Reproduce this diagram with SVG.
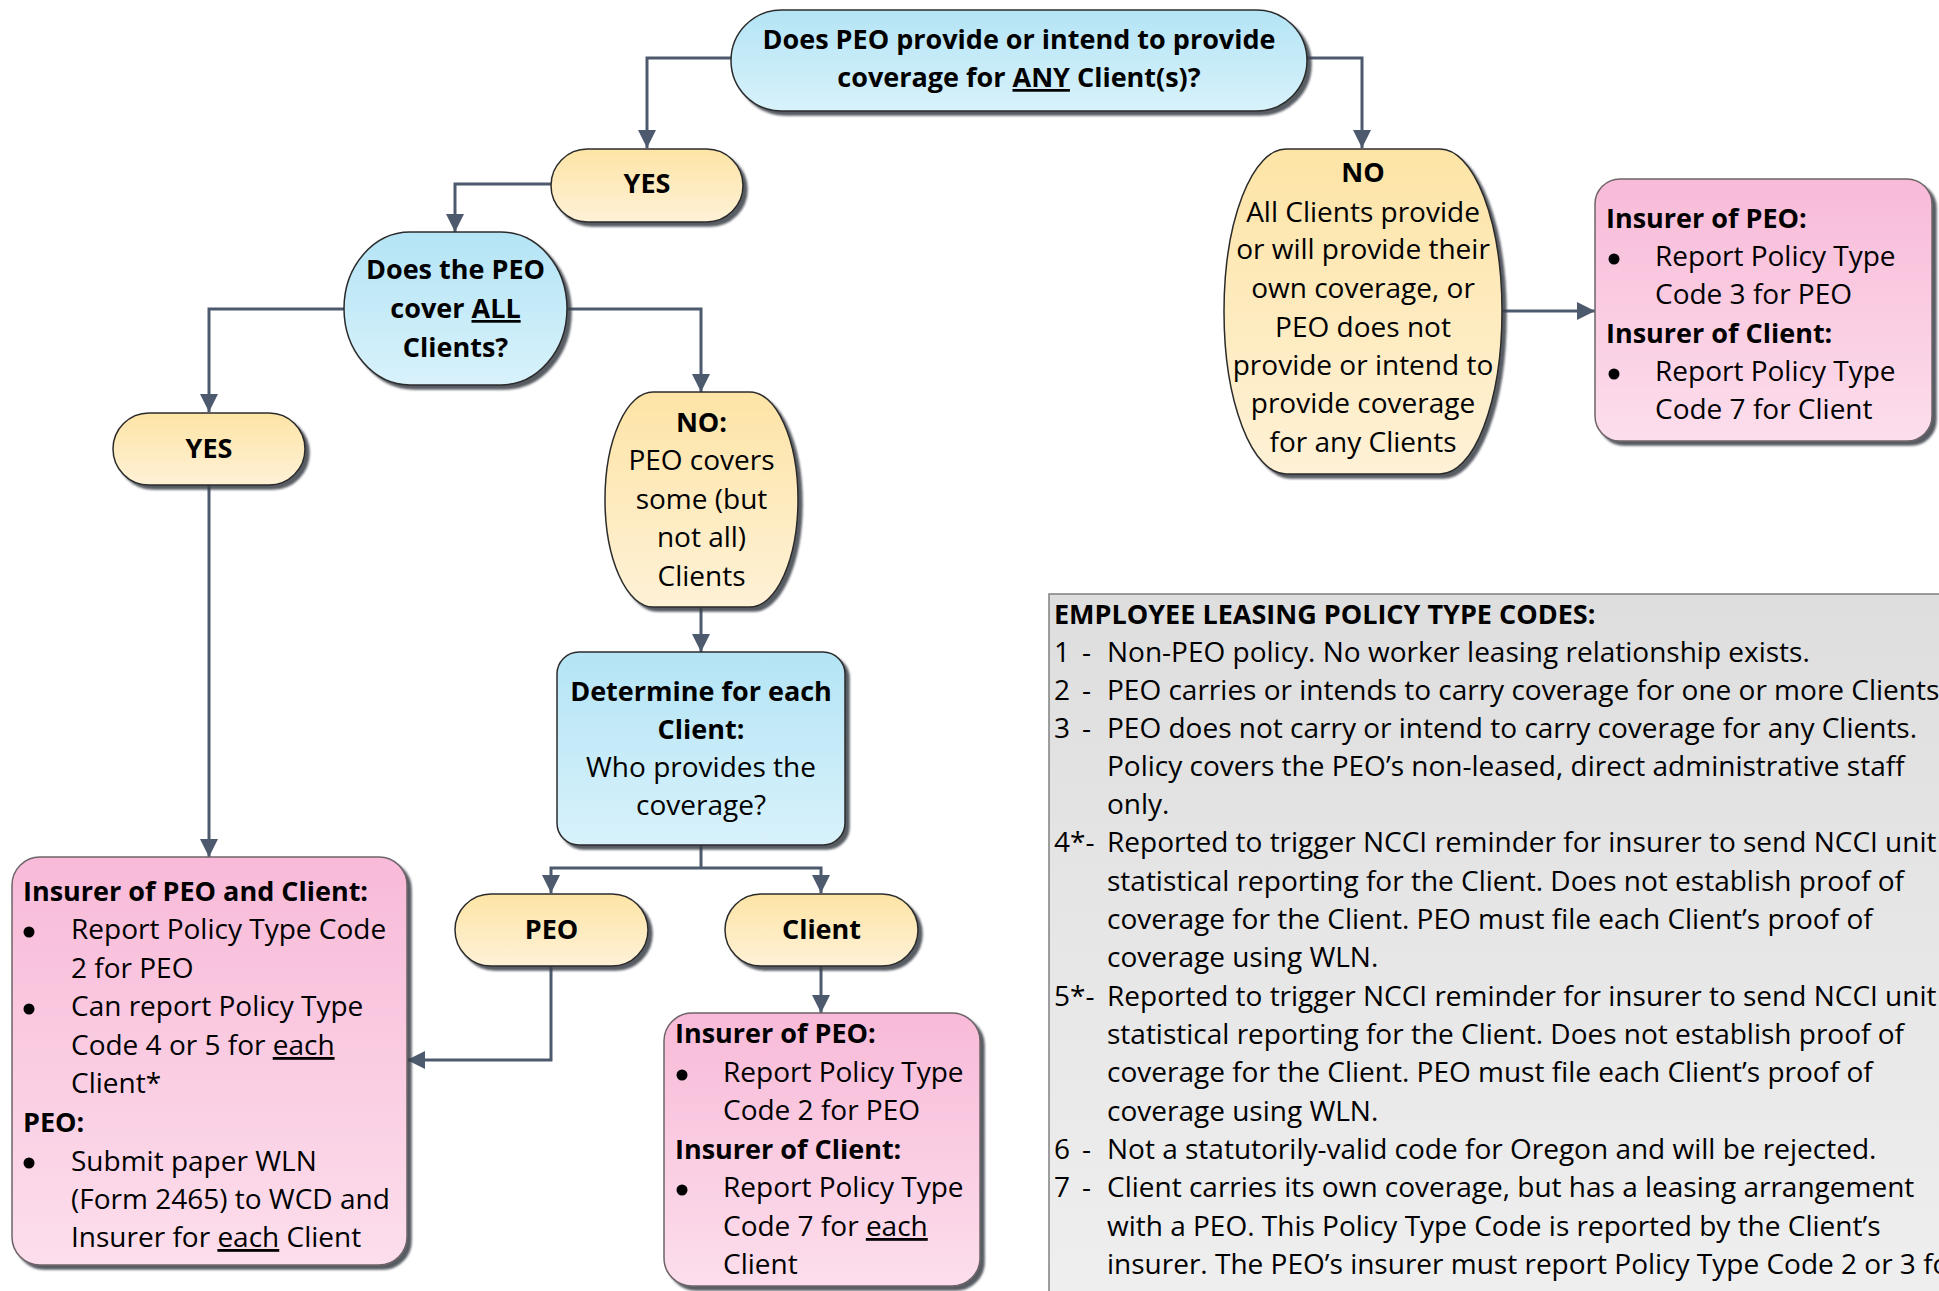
<svg xmlns="http://www.w3.org/2000/svg" width="1939" height="1291" viewBox="0 0 1939 1291">
<defs>
<linearGradient id="gY" x1="0" y1="0" x2="0" y2="1"><stop offset="0" stop-color="#fde4a6"/><stop offset="1" stop-color="#fef1d6"/></linearGradient>
<linearGradient id="gB" x1="0" y1="0" x2="0" y2="1"><stop offset="0" stop-color="#b4e4f5"/><stop offset="1" stop-color="#d8f2fb"/></linearGradient>
<linearGradient id="gP" x1="0" y1="0" x2="0" y2="1"><stop offset="0" stop-color="#f8bad8"/><stop offset="1" stop-color="#fcdeec"/></linearGradient>
<linearGradient id="gG" x1="0" y1="0" x2="0" y2="1"><stop offset="0" stop-color="#dedede"/><stop offset="1" stop-color="#efefef"/></linearGradient>
<filter id="sh" x="-10%" y="-10%" width="125%" height="125%">
<feGaussianBlur in="SourceAlpha" stdDeviation="1.2"/>
<feOffset dx="4" dy="4" result="o"/>
<feFlood flood-color="#3a3f48" flood-opacity="0.85"/>
<feComposite in2="o" operator="in"/>
<feMerge><feMergeNode/><feMergeNode in="SourceGraphic"/></feMerge>
</filter>
<marker id="ar" markerUnits="userSpaceOnUse" markerWidth="18" markerHeight="18" viewBox="0 0 18 18" refX="18" refY="9" orient="auto">
<path d="M0,0 L18,9 L0,18 Z" fill="#4d5a6e"/>
</marker>
</defs>
<style>
text{font-family:"Open Sans","Noto Sans",sans-serif;font-size:28px;fill:#000}
.b{font-weight:bold;font-size:27px}
.c{text-anchor:middle}
.n{stroke:#2b2b2b;stroke-width:1.5;filter:url(#sh)}
.y{fill:url(#gY)}
.bl{fill:url(#gB)}
.p{fill:url(#gP);stroke:#6e6468}
.u{text-decoration:underline}
.con path{fill:none;stroke:#4d5a6e;stroke-width:3}
</style>

<g id="legend">
<rect x="1049" y="594" width="900" height="720" fill="url(#gG)" stroke="#808080" stroke-width="1.5"/>
<text class="b" x="1054" y="624">EMPLOYEE LEASING POLICY TYPE CODES:</text>
<text x="1054" y="662">1</text><text x="1082" y="662">-</text><text x="1107" y="662">Non-PEO policy. No worker leasing relationship exists.</text>
<text x="1054" y="700">2</text><text x="1082" y="700">-</text><text x="1107" y="700">PEO carries or intends to carry coverage for one or more Clients.</text>
<text x="1054" y="738">3</text><text x="1082" y="738">-</text><text x="1107" y="738">PEO does not carry or intend to carry coverage for any Clients.</text>
<text x="1107" y="776">Policy covers the PEO’s non-leased, direct administrative staff</text>
<text x="1107" y="814">only.</text>
<text x="1054" y="852">4*-</text><text x="1107" y="852">Reported to trigger NCCI reminder for insurer to send NCCI unit</text>
<text x="1107" y="891">statistical reporting for the Client. Does not establish proof of</text>
<text x="1107" y="929">coverage for the Client. PEO must file each Client’s proof of</text>
<text x="1107" y="967">coverage using WLN.</text>
<text x="1054" y="1006">5*-</text><text x="1107" y="1006">Reported to trigger NCCI reminder for insurer to send NCCI unit</text>
<text x="1107" y="1044">statistical reporting for the Client. Does not establish proof of</text>
<text x="1107" y="1082">coverage for the Client. PEO must file each Client’s proof of</text>
<text x="1107" y="1121">coverage using WLN.</text>
<text x="1054" y="1159">6</text><text x="1082" y="1159">-</text><text x="1107" y="1159">Not a statutorily-valid code for Oregon and will be rejected.</text>
<text x="1054" y="1197">7</text><text x="1082" y="1197">-</text><text x="1107" y="1197">Client carries its own coverage, but has a leasing arrangement</text>
<text x="1107" y="1236">with a PEO. This Policy Type Code is reported by the Client’s</text>
<text x="1107" y="1274">insurer. The PEO’s insurer must report Policy Type Code 2 or 3 for</text>
</g>

<g class="con">
<path d="M731,58 H647 V148" marker-end="url(#ar)"/>
<path d="M1307,58 H1362 V148" marker-end="url(#ar)"/>
<path d="M551,184 H455 V232" marker-end="url(#ar)"/>
<path d="M344,309 H209 V412" marker-end="url(#ar)"/>
<path d="M567,309 H701 V392" marker-end="url(#ar)"/>
<path d="M209,485 V857" marker-end="url(#ar)"/>
<path d="M701,607 V652" marker-end="url(#ar)"/>
<path d="M701,845 V868"/>
<path d="M701,868 H551 V893" marker-end="url(#ar)"/>
<path d="M701,868 H821 V893" marker-end="url(#ar)"/>
<path d="M551,966 V1060 H407" marker-end="url(#ar)"/>
<path d="M821,966 V1013" marker-end="url(#ar)"/>
<path d="M1502,311 H1595" marker-end="url(#ar)"/>
</g>

<g id="q1">
<rect class="n bl" x="731" y="10" width="576" height="101" rx="50.5"/>
<text class="b c" x="1019" y="49">Does PEO provide or intend to provide</text>
<text class="b c" x="1019" y="87">coverage for <tspan class="u">ANY</tspan> Client(s)?</text>
</g>

<g id="yes1">
<rect class="n y" x="551" y="149" width="192" height="73" rx="36.5"/>
<text class="b c" x="647" y="193">YES</text>
</g>

<g id="no1">
<rect class="n y" x="1224" y="149" width="278" height="325" rx="62" ry="162.5"/>
<text class="b c" x="1363" y="182">NO</text>
<text class="c" x="1363" y="222">All Clients provide</text>
<text class="c" x="1363" y="259">or will provide their</text>
<text class="c" x="1363" y="298">own coverage, or</text>
<text class="c" x="1363" y="337">PEO does not</text>
<text class="c" x="1363" y="375">provide or intend to</text>
<text class="c" x="1363" y="413">provide coverage</text>
<text class="c" x="1363" y="452">for any Clients</text>
</g>

<g id="res-no">
<rect class="n p" x="1595" y="179" width="337" height="262" rx="25"/>
<text class="b" x="1606" y="228">Insurer of PEO:</text>
<circle cx="1614" cy="259" r="5.5"/>
<text x="1655" y="266">Report Policy Type</text>
<text x="1655" y="304">Code 3 for PEO</text>
<text class="b" x="1606" y="343">Insurer of Client:</text>
<circle cx="1614" cy="374" r="5.5"/>
<text x="1655" y="381">Report Policy Type</text>
<text x="1655" y="419">Code 7 for Client</text>
</g>

<g id="q2">
<rect class="n bl" x="344" y="232" width="223" height="153" rx="66" ry="76.5"/>
<text class="b c" x="455.5" y="279">Does the PEO</text>
<text class="b c" x="455.5" y="318">cover <tspan class="u">ALL</tspan></text>
<text class="b c" x="455.5" y="357">Clients?</text>
</g>

<g id="yes2">
<rect class="n y" x="113" y="413" width="192" height="72" rx="36"/>
<text class="b c" x="209" y="458">YES</text>
</g>

<g id="no2">
<rect class="n y" x="605" y="392" width="193" height="215" rx="48" ry="107.5"/>
<text class="b c" x="701.5" y="432">NO:</text>
<text class="c" x="701.5" y="470">PEO covers</text>
<text class="c" x="701.5" y="509">some (but</text>
<text class="c" x="701.5" y="547">not all)</text>
<text class="c" x="701.5" y="586">Clients</text>
</g>

<g id="determine">
<rect class="n bl" x="557" y="652" width="288" height="193" rx="22"/>
<text class="b c" x="701" y="701">Determine for each</text>
<text class="b c" x="701" y="739">Client:</text>
<text class="c" x="701" y="777">Who provides the</text>
<text class="c" x="701" y="815">coverage?</text>
</g>

<g id="peo">
<rect class="n y" x="455" y="894" width="193" height="72" rx="36"/>
<text class="b c" x="551.5" y="939">PEO</text>
</g>

<g id="client">
<rect class="n y" x="725" y="894" width="193" height="72" rx="36"/>
<text class="b c" x="821.5" y="939">Client</text>
</g>

<g id="res-yes">
<rect class="n p" x="12" y="857" width="395" height="408" rx="28"/>
<text class="b" x="23" y="901">Insurer of PEO and Client:</text>
<circle cx="29" cy="932" r="5.5"/>
<text x="71" y="939">Report Policy Type Code</text>
<text x="71" y="978">2 for PEO</text>
<circle cx="29" cy="1009" r="5.5"/>
<text x="71" y="1016">Can report Policy Type</text>
<text x="71" y="1055">Code 4 or 5 for <tspan class="u">each</tspan></text>
<text x="71" y="1093">Client*</text>
<text class="b" x="23" y="1132">PEO:</text>
<circle cx="29" cy="1163" r="5.5"/>
<text x="71" y="1171">Submit paper WLN</text>
<text x="71" y="1209">(Form 2465) to WCD and</text>
<text x="71" y="1247">Insurer for <tspan class="u">each</tspan> Client</text>
</g>

<g id="res-client">
<rect class="n p" x="664" y="1013" width="316" height="273" rx="28"/>
<text class="b" x="675" y="1043">Insurer of PEO:</text>
<circle cx="682" cy="1075" r="5.5"/>
<text x="723" y="1082">Report Policy Type</text>
<text x="723" y="1120">Code 2 for PEO</text>
<text class="b" x="675" y="1159">Insurer of Client:</text>
<circle cx="682" cy="1190" r="5.5"/>
<text x="723" y="1197">Report Policy Type</text>
<text x="723" y="1236">Code 7 for <tspan class="u">each</tspan></text>
<text x="723" y="1274">Client</text>
</g>
</svg>
